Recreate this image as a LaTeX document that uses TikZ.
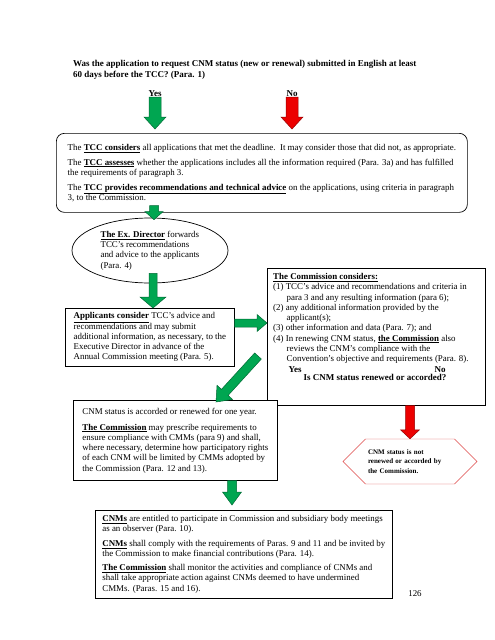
\documentclass[tikz,border=0pt]{standalone}
\usepackage{fontspec}
\setmainfont{Liberation Serif}
\usetikzlibrary{calc}
\usetikzlibrary{shapes.geometric}
\usetikzlibrary{shapes.symbols}

\definecolor{arrowgreen}{RGB}{0,166,81}
\definecolor{arrowgreenedge}{RGB}{0,105,52}
\definecolor{arrowred}{RGB}{236,0,0}
\definecolor{arrowrededge}{RGB}{150,0,0}
\definecolor{hexred}{RGB}{222,70,70}

\newcommand{\ulb}[1]{\underline{\textbf{#1}}}

\tikzset{
  txt/.style={font=\fontsize{8.9}{10.25}\selectfont, align=left, inner sep=0pt},
  boldtxt/.style={font=\fontsize{9}{10.5}\selectfont\bfseries, align=left, inner sep=0pt},
  box/.style={txt, draw=black, line width=0.7pt, fill=white, anchor=north west},
  shaft/.store in=\bashaft, headw/.store in=\baheadw, headl/.store in=\baheadl,
  shaft=9pt, headw=20pt, headl=11pt,
  greenarr/.style={fill=arrowgreen, draw=arrowgreenedge, line width=0.5pt},
  redarr/.style={fill=arrowred, draw=arrowrededge, line width=0.5pt}}

% fat block arrow from #2 to #3
\newcommand{\blockarrow}[3][]{%
  \path (#2) coordinate (ba-s) (#3) coordinate (ba-e);
  \pgfpointdiff{\pgfpointanchor{ba-s}{center}}{\pgfpointanchor{ba-e}{center}}%
  \pgfgetlastxy{\badx}{\bady}%
  \pgfmathsetmacro{\baang}{atan2(\bady,\badx)}%
  \pgfmathsetmacro{\balen}{veclen(\badx,\bady)}%
  \draw[#1, shift={(ba-s)}, rotate=\baang]
    (0pt,{\bashaft/2}) -- ({\balen pt-\baheadl},{\bashaft/2}) -- ({\balen pt-\baheadl},{\baheadw/2})
    -- (\balen pt,0pt) -- ({\balen pt-\baheadl},{-\baheadw/2}) -- ({\balen pt-\baheadl},{-\bashaft/2})
    -- (0pt,{-\bashaft/2}) -- cycle;}

\begin{document}
\begin{tikzpicture}[x=1pt,y=-1pt]
  \useasboundingbox (0,0) rectangle (495,640);

  \node[boldtxt, anchor=north west] (question) at (73,60.3) {Was the application to request CNM status (new or renewal) submitted in English at least\\60 days before the TCC? (Para. 1)};
  \node[boldtxt] (yes) at (155,94) {Yes};
  \node[boldtxt] (no) at (292,94) {No};

  \node[box, rounded corners=8pt, minimum width=411pt, minimum height=79pt] (tcc) at (56,133)
    {The \ulb{TCC considers} all applications that met the deadline.\ \ It may consider those that did not, as appropriate.\\[4.5pt]
     The \ulb{TCC assesses} whether the applications includes all the information required (Para. 3a) and has fulfilled\\
     the requirements of paragraph 3.\\[4.5pt]
     The \ulb{TCC provides recommendations and technical advice} on the applications, using criteria in paragraph\\
     3, to the Commission.};

  \node[txt, draw=black, line width=0.7pt, fill=white, ellipse, minimum width=156pt, minimum height=65pt] (exdir) at (150,250.5)
    {\ulb{The Ex. Director} forwards\\TCC's recommendations\\and advice to the applicants\\(Para. 4)};

  \node[box, minimum width=169pt, minimum height=58pt] (appl) at (65,308)
    {\ulb{Applicants consider} TCC's advice and\\
     recommendations and may submit\\
     additional information, as necessary, to the\\
     Executive Director in advance of the\\
     Annual Commission meeting (Para. 5).};

  \node[box, minimum width=218pt, minimum height=137pt] (com) at (267,268) {};
  \node[txt, anchor=north west] (comtxt) at (273,273.2)
    {\ulb{The Commission considers:}\\
     (1) TCC's advice and recommendations and criteria in\\
     \hspace*{13.5pt}para 3 and any resulting information (para 6);\\
     (2) any additional information provided by the\\
     \hspace*{13.5pt}applicant(s);\\
     (3) other information and data (Para. 7); and\\
     (4) In renewing CNM status, \ulb{the Commission} also\\
     \hspace*{13.5pt}reviews the CNM's compliance with the\\
     \hspace*{13.5pt}Convention's objective and requirements (Para. 8).};
  \node[boldtxt] (comyes) at (295,369.5) {Yes};
  \node[boldtxt] (comno) at (440,369.5) {No};
  \node[boldtxt] (comq) at (375,377.5) {Is CNM status renewed or accorded?};

  \node[box, minimum width=204pt, minimum height=80pt] (cnmstat) at (73,400)
    {CNM status is accorded or renewed for one year.\\[5.8pt]
     \ulb{The Commission} may prescribe requirements to\\
     ensure compliance with CMMs (para 9) and shall,\\
     where necessary, determine how participatory rights\\
     of each CNM will be limited by CMMs adopted by\\
     the Commission (Para. 12 and 13).};

  \node[signal, signal to=west and east, signal pointer angle=90, draw=hexred, fill=white,
        minimum width=134pt, minimum height=45pt, inner sep=0pt, text width=84pt, align=left,
        font=\fontsize{7}{9.7}\selectfont\bfseries] (notacc) at (410,461.5)
    {CNM status is not\\renewed or accorded by\\the Commission.};

  \node[box, minimum width=297pt, minimum height=88pt] (cnms) at (95,510)
    {\ulb{CNMs} are entitled to participate in Commission and subsidiary body meetings\\
     as an observer (Para. 10).\\[4pt]
     \ulb{CNMs} shall comply with the requirements of Paras. 9 and 11 and be invited by\\
     the Commission to make financial contributions (Para. 14).\\[4pt]
     \ulb{The Commission} shall monitor the activities and compliance of CNMs and\\
     shall take appropriate action against CNMs deemed to have undermined\\
     CMMs. (Paras. 15 and 16).};

  \node[txt] (pagenum) at (415,594) {126};

  \blockarrow[greenarr, shaft=12pt, headw=22pt, headl=12pt]{yes.south}{$(tcc.north -| yes)+(0,-4)$}
  \blockarrow[redarr, shaft=12pt, headw=22pt, headl=12pt]{no.south}{$(tcc.north -| no)+(0,-4)$}
  \blockarrow[greenarr, shaft=9pt, headw=18pt, headl=8pt]{$(tcc.south -| exdir)+(4,-7)$}{$(exdir.north)+(4,2)$}
  \blockarrow[greenarr, shaft=8pt, headw=26pt, headl=11pt]{$(exdir.south)+(3,-10)$}{$(appl.north west)+(88,0)$}
  \blockarrow[greenarr, shaft=8pt, headw=17pt, headl=10pt]{$(appl.north east)+(0,15)$}{$(com.north west)+(0,55)$}
  \blockarrow[greenarr, shaft=9pt, headw=21pt, headl=13pt]{$(com.north west)+(-9,88)$}{$(cnmstat.north west)+(143,2)$}
  \blockarrow[redarr, shaft=9pt, headw=19pt, headl=9pt]{com.south -| notacc}{notacc.north}
  \blockarrow[greenarr, shaft=9pt, headw=19pt, headl=13pt]{$(cnmstat.south west)+(159,0)$}{$(cnms.north west)+(137,-5)$}
\end{tikzpicture}
\end{document}
